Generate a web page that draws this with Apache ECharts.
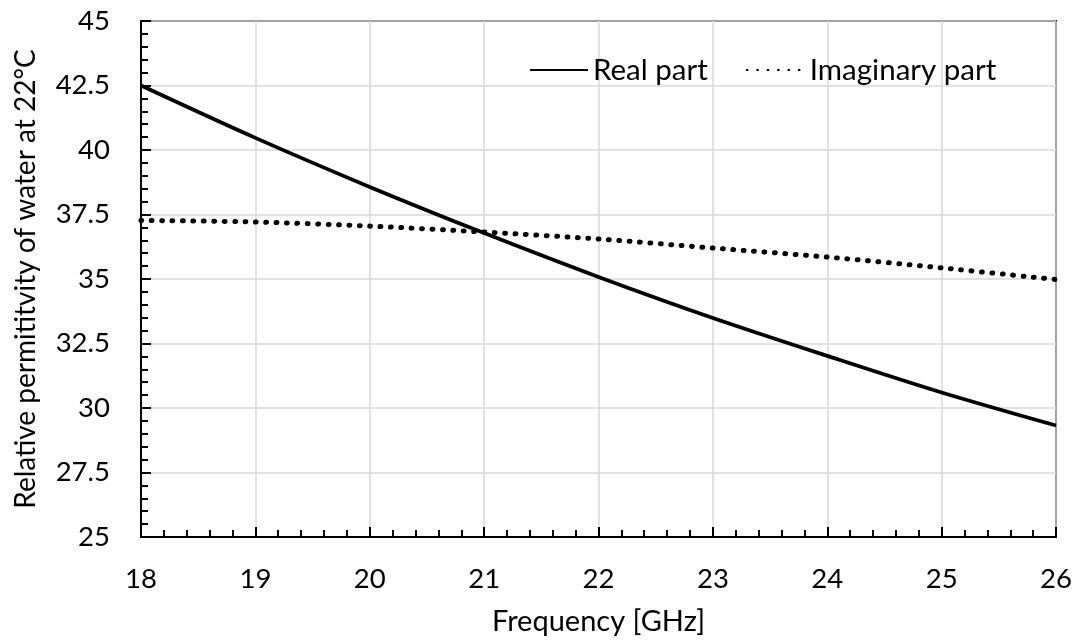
<!DOCTYPE html>
<html>
<head>
<meta charset="utf-8">
<script src="https://cdn.jsdelivr.net/npm/echarts@6/dist/echarts.min.js"></script>
<style>
  html, body { margin: 0; padding: 0; background: #fff; }
  #chart { width: 1081px; height: 643px; }
</style>
</head>
<body>
<div id="chart"></div>
<script>
// frequency in GHz
const freq = [18, 19, 20, 21, 22, 23, 24, 25, 26];
// relative permittivity
const realPart = [42.5, 40.47, 38.57, 36.78, 35.08, 33.49, 32.02, 30.6, 29.32];
const imagPart = [37.27, 37.21, 37.05, 36.82, 36.55, 36.2, 35.85, 35.43, 34.98];

const FONT = 'Lato';

const chart = echarts.init(document.getElementById('chart'));

const toPairs = (ys) => freq.map((x, i) => [x, ys[i]]);

const option = {
  animation: false,
  backgroundColor: '#fff',
  grid: {
    left: 141,
    right: 25,
    top: 21,
    bottom: 106,
    show: true,
    borderColor: '#000',
    borderWidth: 2,
  },
  legend: {
    left: 524,
    top: 50,
    itemWidth: 58,
    itemHeight: 10,
    itemGap: 38,
    itemStyle: { opacity: 0 },
    textStyle: { fontFamily: FONT, fontSize: 29.5, color: '#000' },
    data: ['Real part', 'Imaginary part'],
  },
  xAxis: {
    type: 'value',
    min: 18,
    max: 26,
    interval: 1,
    name: 'Frequency [GHz]',
    nameLocation: 'middle',
    nameGap: 70,
    nameTextStyle: { fontFamily: FONT, fontSize: 29, color: '#000' },
    axisLine: { show: true, lineStyle: { color: '#000', width: 2 } },
    axisTick: { show: true, inside: true, length: 10, lineStyle: { color: '#000', width: 2 } },
    minorTick: { show: true, splitNumber: 5, length: 7, lineStyle: { color: '#000', width: 2 } },
    axisLabel: { fontFamily: FONT, fontSize: 27.5, color: '#000', margin: 28 },
    splitLine: { show: true, lineStyle: { color: '#d9d9d9', width: 1.5 } },
  },
  yAxis: {
    type: 'value',
    min: 25,
    max: 45,
    interval: 2.5,
    name: 'Relative permititvity of water at 22°C',
    nameLocation: 'middle',
    nameGap: 101,
    nameTextStyle: { fontFamily: FONT, fontSize: 28, color: '#000' },
    axisLine: { show: true, lineStyle: { color: '#000', width: 2 } },
    axisTick: { show: true, inside: true, length: 10, lineStyle: { color: '#000', width: 2 } },
    minorTick: { show: true, splitNumber: 5, length: 7, lineStyle: { color: '#000', width: 2 } },
    axisLabel: { fontFamily: FONT, fontSize: 27.5, color: '#000', margin: 31 },
    splitLine: { show: true, lineStyle: { color: '#d9d9d9', width: 1.5 } },
  },
  series: [
    {
      name: 'Real part',
      type: 'line',
      data: toPairs(realPart),
      smooth: 0.3,
      symbol: 'none',
      lineStyle: { color: '#000', width: 3.8 },
      itemStyle: { color: '#000' },
    },
    {
      name: 'Imaginary part',
      type: 'line',
      data: toPairs(imagPart),
      smooth: 0.3,
      symbol: 'none',
      lineStyle: { color: '#000', width: 5, type: [0.8, 9.6], cap: 'round' },
      itemStyle: { color: '#000' },
    },
  ],
};

chart.setOption(option);
</script>
</body>
</html>
